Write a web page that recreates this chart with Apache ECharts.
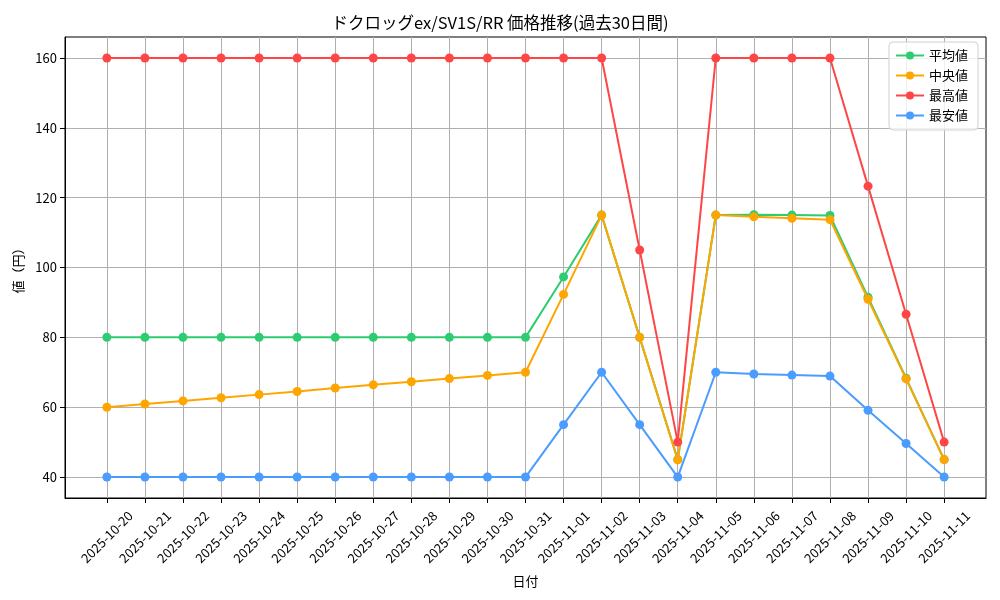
<!DOCTYPE html>
<html>
<head>
<meta charset="utf-8">
<script src="https://cdn.jsdelivr.net/npm/echarts@6/dist/echarts.min.js"></script>
<style>html,body{margin:0;padding:0;background:#fff}#c{width:1000px;height:600px}</style>
</head>
<body>
<div id="c"></div>
<script>
const categories = ['2025-10-20','2025-10-21','2025-10-22','2025-10-23','2025-10-24','2025-10-25','2025-10-26','2025-10-27','2025-10-28','2025-10-29','2025-10-30','2025-10-31','2025-11-01','2025-11-02','2025-11-03','2025-11-04','2025-11-05','2025-11-06','2025-11-07','2025-11-08','2025-11-09','2025-11-10','2025-11-11'];
const avgValues = [80,80,80,80,80,80,80,80,80,80,80,80,97.3,115,80,45,115,115.1,115,114.9,91.5,68.3,45];
const medianValues = [60,60.9,61.8,62.7,63.6,64.5,65.5,66.4,67.3,68.2,69.1,70,92.3,115,80,44.9,115,114.5,114.1,113.7,90.9,68.1,45];
const maxValues = [160,160,160,160,160,160,160,160,160,160,160,160,160,160,105,50,160,160,160,160,123.3,86.6,50];
const minValues = [40,40,40,40,40,40,40,40,40,40,40,40,55,70,55,40,70,69.5,69.2,68.9,59.1,49.6,40];
const yTicks = [40,60,80,100,120,140,160];
const seriesNames = ['平均値','中央値','最高値','最安値'];
const colors = ['#2ecc71','#ffa500','#ff4646','#4a9cff'];

const font = '"Noto Sans CJK JP", "DejaVu Sans", sans-serif';
const xIdx = categories.map((_, i) => i);
function mk(vals){ return vals.map((v,i)=>[i,v]); }
const allData = [avgValues, medianValues, maxValues, minValues];

const chart = echarts.init(document.getElementById('c'), null, {renderer:'canvas'});
chart.setOption({
  animation:false,
  backgroundColor:'#fff',
  title:{text:'ドクロッグex/SV1S/RR 価格推移(過去30日間)', left:'center', top:9,
    textStyle:{fontFamily:font, fontSize:16.5, fontWeight:'normal', color:'#000'}},
  legend:{
    orient:'vertical', right:22, top:42,
    data:seriesNames,
    itemWidth:28, itemHeight:10, itemGap:7,
    backgroundColor:'rgba(255,255,255,0.8)', borderColor:'#d0d0d0', borderWidth:1, borderRadius:4,
    padding:[7,10,8,6],
    textStyle:{fontFamily:font, fontSize:13, color:'#000'}
  },
  grid:{left:65, right:14, top:37, bottom:102, show:true, borderColor:'#000', borderWidth:1},
  xAxis:{
    type:'value', min:-1.1, max:categories.length-1+1.1,
    name:'日付', nameLocation:'middle', nameGap:77,
    nameTextStyle:{fontFamily:font, fontSize:13, color:'#000'},
    axisLine:{show:true, onZero:false, lineStyle:{color:'#000'}},
    axisTick:{show:true, customValues:xIdx, length:5, lineStyle:{color:'#000'}},
    axisLabel:{customValues:xIdx, rotate:45, margin:39, align:'center', verticalAlign:'middle',
      fontFamily:font, fontSize:13, color:'#000',
      formatter:(v)=>categories[Math.round(v)] || ''},
    splitLine:{show:true, lineStyle:{color:'#b0b0b0', width:1}}
  },
  yAxis:{
    type:'value', min:34, max:166,
    name:'値（円）', nameLocation:'middle', nameGap:40, nameRotate:90,
    nameTextStyle:{fontFamily:font, fontSize:13, color:'#000'},
    axisLine:{show:true, onZero:false, lineStyle:{color:'#000'}},
    axisTick:{show:true, customValues:yTicks, length:5, lineStyle:{color:'#000'}},
    axisLabel:{customValues:yTicks, margin:8, fontFamily:font, fontSize:13, color:'#000'},
    splitLine:{show:true, lineStyle:{color:'#b0b0b0', width:1}}
  },
  series: seriesNames.map((n,k)=>({
    name:n, type:'line', data:mk(allData[k]),
    symbol:'circle', symbolSize:9,
    itemStyle:{color:colors[k]},
    lineStyle:{color:colors[k], width:2},
    z: 2+k
  }))
});
</script>
</body>
</html>
